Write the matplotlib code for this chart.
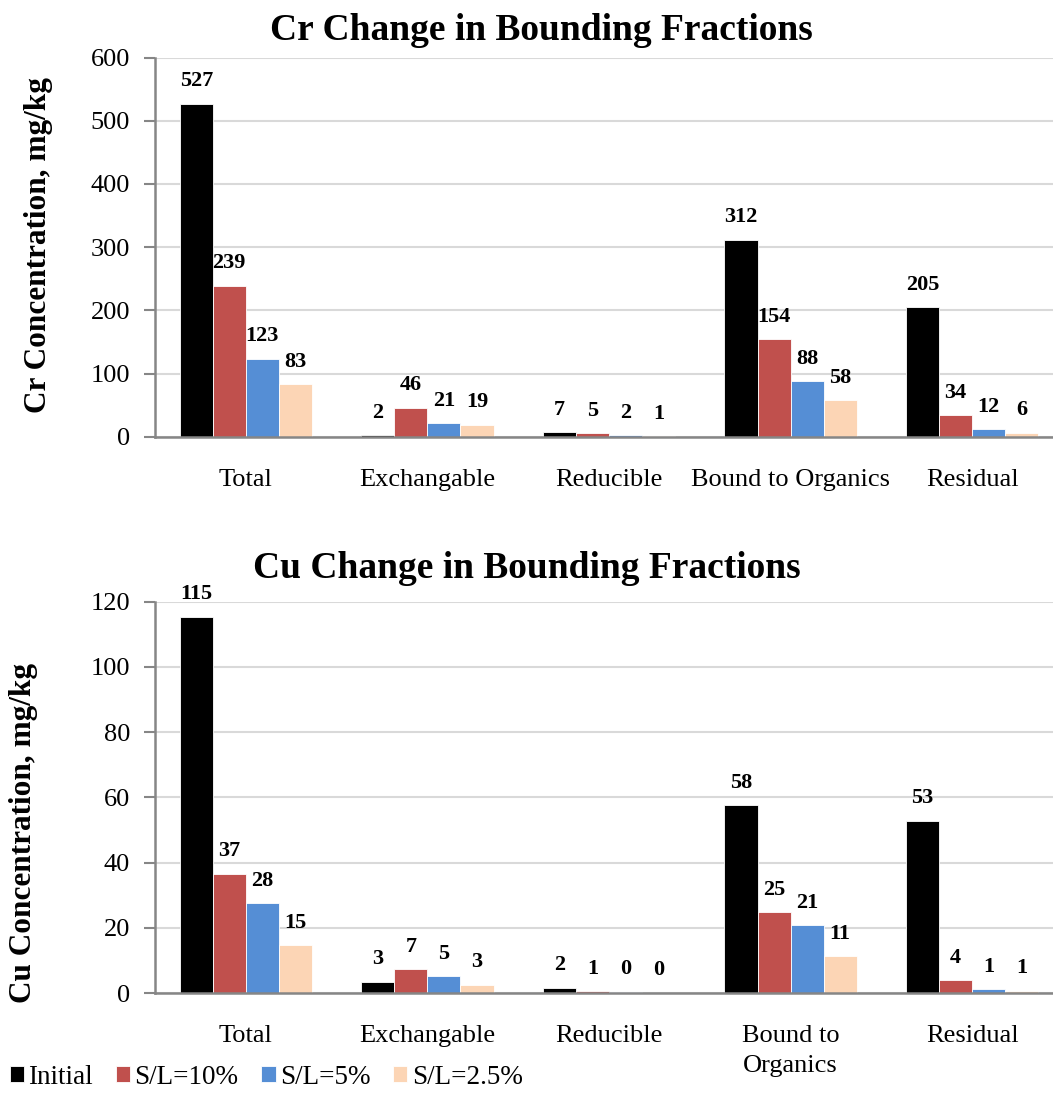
import numpy as np
import matplotlib
matplotlib.use('Agg')
from matplotlib import pyplot as plt

plt.rcParams['font.family'] = ['Liberation Serif', 'DejaVu Serif']

categories_top = ['Total', 'Exchangable', 'Reducible', 'Bound to Organics', 'Residual']
categories_bot = ['Total', 'Exchangable', 'Reducible', 'Bound to\nOrganics', 'Residual']
series = ['Initial', 'S/L=10%', 'S/L=5%', 'S/L=2.5%']
colors = ['#000000', '#C0504D', '#558ED5', '#FCD5B5']

# Cr, mg/kg
cr_initial = [527, 2.2, 7.3, 312, 205]
cr_sl10 = [239, 46, 5.2, 154, 34]
cr_sl5 = [123, 21, 2.2, 88, 12]
cr_sl25 = [83, 19, 0.8, 58, 6]

# Cu, mg/kg
cu_initial = [115.4, 3.4, 1.6, 57.6, 52.8]
cu_sl10 = [36.6, 7.3, 0.6, 24.8, 3.9]
cu_sl5 = [27.6, 5.2, 0.4, 20.8, 1.2]
cu_sl25 = [14.6, 2.6, 0.1, 11.2, 0.7]

cr = [cr_initial, cr_sl10, cr_sl5, cr_sl25]
cu = [cu_initial, cu_sl10, cu_sl5, cu_sl25]

fig = plt.figure(figsize=(10.53, 10.93), dpi=100)
W, H = 1053, 1093

ax1 = fig.add_axes([155 / W, 1 - 436.7 / H, 908 / W, (436.7 - 57.5) / H])
ax2 = fig.add_axes([155 / W, 1 - 993 / H, 908 / W, (993 - 601.7) / H])

bw = 0.182
x = np.arange(5)


def draw(ax, data, cats, ymax, step, ylabel):
    for i, vals in enumerate(data):
        bars = ax.bar(x + (i - 1.5) * bw, vals, bw, color=colors[i],
                      edgecolor='white', linewidth=0.6, label=series[i], zorder=3)
        ax.bar_label(bars, fmt='%.0f', padding=9, fontsize=16,
                     fontweight='bold')
    ax.set_xlim(-0.5, 4.5)
    ax.set_ylim(0, ymax)
    ax.set_yticks(np.arange(0, ymax + 1, step))
    ax.set_xticks(x)
    ax.set_xticklabels(cats, fontsize=19, linespacing=1.5)
    ax.tick_params(axis='x', length=0, pad=23)
    ax.tick_params(axis='y', labelsize=19, length=8, width=1.5, color='#868686', pad=10)
    ax.yaxis.grid(True, color='#D9D9D9', linewidth=1.5, zorder=0)
    ax.set_axisbelow(True)
    for s in ['top', 'right']:
        ax.spines[s].set_visible(False)
    for s in ['left', 'bottom']:
        ax.spines[s].set_color('#868686')
        ax.spines[s].set_linewidth(1.8)
        ax.spines[s].set_zorder(4)
    ax.set_ylabel(ylabel, fontsize=22.5, fontweight='bold')


draw(ax1, cr, categories_top, 600, 100, 'Cr Concentration, mg/kg')
draw(ax2, cu, categories_bot, 120, 20, 'Cu Concentration, mg/kg')
ax1.yaxis.set_label_coords(-0.112, 0.505)
ax2.yaxis.set_label_coords(-0.129, 0.41)

fig.text(541 / W, 1 - 31 / H, 'Cr Change in Bounding Fractions', fontsize=27,
         fontweight='bold', ha='center', va='center')
fig.text(527 / W, 1 - 568 / H, 'Cu Change in Bounding Fractions', fontsize=27,
         fontweight='bold', ha='center', va='center')

handles, labels = ax2.get_legend_handles_labels()
fig.legend(handles, labels, loc='lower left', bbox_to_anchor=(-0.006, -0.012), ncol=4,
           frameon=False, fontsize=19.5, handlelength=0.52, handleheight=0.52,
           handletextpad=0.16, columnspacing=0.85, borderaxespad=0.2)

fig.savefig('out.png', dpi=100)
